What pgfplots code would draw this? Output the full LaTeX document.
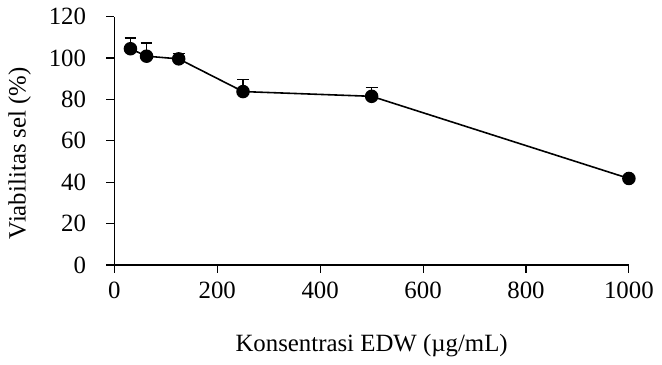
\documentclass[border=0pt]{standalone}
\usepackage{fontspec}
\setmainfont{Liberation Serif}
\usepackage{pgfplots}
\pgfplotsset{compat=1.18}
\begin{document}
\fontsize{25}{29}\selectfont
\begin{tikzpicture}
\begin{axis}[
  scale only axis,
  width=518pt, height=250pt,
  xmin=0, xmax=1000, ymin=0, ymax=120,
  xtick={0,200,...,1000}, ytick={0,20,...,120},
  axis lines*=left,
  axis line style={line width=1.1pt},
  tick style={line width=1.1pt, black},
  tick align=outside,
  major tick length=8pt,
  /pgf/number format/assume math mode=true,
  /pgf/number format/1000 sep={},
  ticklabel style={font=\fontsize{25}{29}\selectfont},
  yticklabel style={xshift=-12pt},
  xticklabel style={yshift=-1pt},
  xlabel={Konsentrasi EDW (µg/mL)},
  ylabel={Viabilitas sel (\%)},
  label style={font=\fontsize{25}{29}\selectfont},
  xlabel style={yshift=-18pt},
  ylabel style={at={(axis description cs:-0.146,0.45)}, anchor=south},
  clip=false,
]
\addplot[black, line width=1.6pt, mark=*, mark size=6pt,
  error bars/.cd, y dir=plus, y explicit, error bar style={line width=1.2pt}, error mark options={rotate=90, mark size=6pt, line width=1.2pt}]
coordinates {
 (31.25,104.5) +- (0,5.2)
 (62.5,100.9) +- (0,6.4)
 (125,99.6) +- (0,2.4)
 (250,83.8) +- (0,6.0)
 (500,81.5) +- (0,4.3)
 (1000,41.8) +- (0,0.5)
};
\end{axis}
\end{tikzpicture}
\end{document}
